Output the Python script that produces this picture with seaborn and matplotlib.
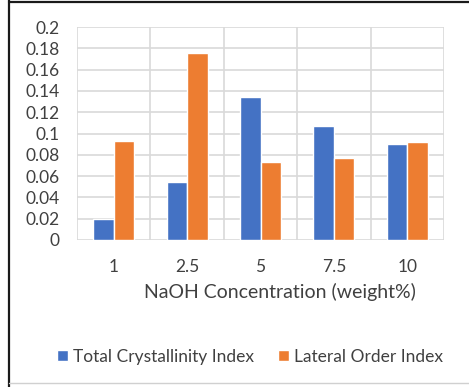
import matplotlib
matplotlib.use("Agg")
import matplotlib.pyplot as plt
from matplotlib.lines import Line2D
import seaborn as sns
import pandas as pd

concentrations = ["1", "2.5", "5", "7.5", "10"]
total_crystallinity = [0.020, 0.054, 0.134, 0.107, 0.090]
lateral_order = [0.093, 0.176, 0.073, 0.077, 0.092]
series_names = ["Total Crystallinity Index", "Lateral Order Index"]
y_ticks = [0, 0.02, 0.04, 0.06, 0.08, 0.1, 0.12, 0.14, 0.16, 0.18, 0.2]
y_tick_labels = ["0", "0.02", "0.04", "0.06", "0.08", "0.1", "0.12", "0.14", "0.16", "0.18", "0.2"]

df = pd.DataFrame({
    "conc": concentrations * 2,
    "value": total_crystallinity + lateral_order,
    "series": [series_names[0]] * len(concentrations) + [series_names[1]] * len(concentrations),
})

sns.set_style("white")
plt.rcParams["font.family"] = ["Lato", "DejaVu Sans"]
TICK_FS = 12.5
LABEL_FS = 14
LEG_FS = 12.5
TEXT_COLOR = "#404040"

fig = plt.figure(figsize=(4.69, 3.87), dpi=100)
ax = fig.add_axes([77 / 469, 1 - 240 / 387, (444 - 77) / 469, (240 - 27) / 387])

sns.barplot(data=df, x="conc", y="value", hue="series", order=concentrations,
            hue_order=series_names, palette=["#4472C4", "#ED7D31"],
            width=0.56, gap=0, saturation=1, ax=ax, legend=True, zorder=3)

ax.set_ylim(0, 0.2)
ax.set_xlim(-0.5, len(concentrations) - 0.5)
ax.set_yticks(y_ticks)
ax.set_yticklabels(y_tick_labels)
ax.set_xticks(range(len(concentrations)))
ax.set_xticklabels(concentrations)
ax.set_xticks([i - 0.5 for i in range(len(concentrations) + 1)], minor=True)

grid_color = "#d9d9d9"
ax.grid(False)
ax.yaxis.grid(True, which="major", color=grid_color, linewidth=1.2, zorder=0)
ax.xaxis.grid(True, which="minor", color=grid_color, linewidth=1.2, zorder=0)
ax.set_axisbelow(True)
for s in ax.spines.values():
    s.set_visible(False)

ax.tick_params(axis="y", which="both", length=0, pad=12.5, labelsize=TICK_FS, labelcolor=TEXT_COLOR)
ax.tick_params(axis="x", which="both", length=0, pad=14, labelsize=TICK_FS, labelcolor=TEXT_COLOR)
ax.set_ylabel("")
ax.set_xlabel("NaOH Concentration (weight%)", fontsize=LABEL_FS, color=TEXT_COLOR)
ax.xaxis.set_label_coords(0.554, -0.243)
ax.xaxis.label.set_va("center")

leg = ax.get_legend()
handles = leg.legend_handles
leg.remove()
fig.legend(handles, series_names, loc="center", bbox_to_anchor=(0.533, 1 - 357 / 387),
           ncol=2, frameon=False, fontsize=LEG_FS, handlelength=0.6, handleheight=0.6,
           handletextpad=0.3, columnspacing=1.4, labelcolor=TEXT_COLOR)

# frame edges around the chart
fig.add_artist(Line2D([9 / 469, 9 / 469], [0, 1], transform=fig.transFigure, color="#1a1a1a", linewidth=1.6))
fig.add_artist(Line2D([9 / 469, 1], [1 - 1.5 / 387, 1 - 1.5 / 387], transform=fig.transFigure, color="#1a1a1a", linewidth=1.6))
fig.add_artist(Line2D([9 / 469, 1], [4 / 387, 4 / 387], transform=fig.transFigure, color="#d0d0d0", linewidth=1.0))

fig.savefig("out.png", dpi=100)
